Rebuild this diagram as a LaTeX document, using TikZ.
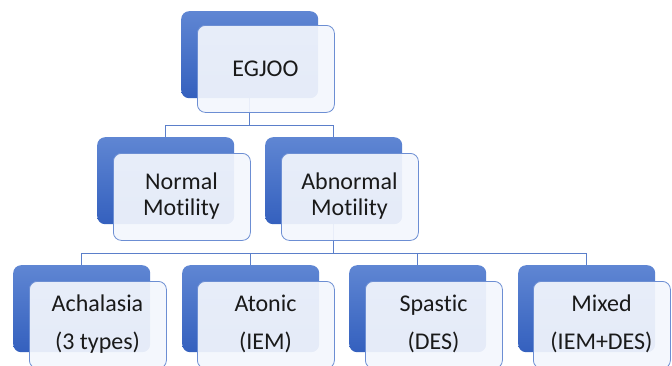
\documentclass[tikz,border=0pt]{standalone}
\usepackage{fontspec}
\setmainfont{Carlito}[Ligatures={NoCommon,NoContextual},RawFeature={-liga;-clig;-calt}]
\usetikzlibrary{backgrounds}
\definecolor{bluetop}{HTML}{5F86D3}
\definecolor{bluebot}{HTML}{3460BE}
\definecolor{edgeblue}{HTML}{6C8ED3}
\definecolor{frontfill}{HTML}{F4F7FD}
\definecolor{lineblue}{HTML}{5B7FCA}
\definecolor{txtcol}{HTML}{1A1A1A}
\newcommand{\motil}{Mot\kern0pt ility}
\tikzset{
  backbox/.style={rectangle, rounded corners=8pt, minimum width=137pt, minimum height=87pt,
    inner sep=0pt, top color=bluetop, bottom color=bluebot, draw=none, anchor=north west},
  frontbox/.style={rectangle, rounded corners=8pt, minimum width=137pt, minimum height=87pt,
    inner sep=0pt, fill=frontfill, fill opacity=0.92, draw=edgeblue, line width=0.8pt, anchor=north west},
  txt/.style={font=\fontsize{24}{28}\selectfont, inner sep=0pt, anchor=base, text=txtcol},
  conn/.style={draw=lineblue, line width=0.9pt},
}
\begin{document}
\begin{tikzpicture}[x=1pt,y=-1pt]
\clip (0,0) rectangle (672,365);
% level 1
\node[backbox] (b0) at (181,11) {};
\node[frontbox] (f0) at (197,25) {};
\node[txt] (t0) at (265.5,76) {EGJOO};
% level 2
\node[backbox] (b1) at (97,137) {};
\node[frontbox] (f1) at (113,153) {};
\node[txt] (t1a) at (181.5,189.3) {Normal};
\node[txt] (t1b) at (181.5,215.7) {\motil};
\node[backbox] (b2) at (265,137) {};
\node[frontbox] (f2) at (281,153) {};
\node[txt] (t2a) at (349.5,189.3) {Abnormal};
\node[txt] (t2b) at (349.5,215.7) {\motil};
% level 3
\node[backbox] (c1) at (13,265) {};
\node[frontbox] (g1) at (29,281) {};
\node[txt] (u1a) at (97.5,311.7) {Achalasia};
\node[txt] (u1b) at (97.5,349) {(3 types)};
\node[backbox] (c2) at (182,265) {};
\node[frontbox] (g2) at (197,281) {};
\node[txt] (u2a) at (265.5,311.7) {Atonic};
\node[txt] (u2b) at (265.5,349) {(IEM)};
\node[backbox] (c3) at (349,265) {};
\node[frontbox] (g3) at (365,281) {};
\node[txt] (u3a) at (433.5,311.7) {Spastic};
\node[txt] (u3b) at (433.5,349) {(DES)};
\node[backbox] (c4) at (518,265) {};
\node[frontbox] (g4) at (533,281) {};
\node[txt] (u4a) at (601.5,311.7) {Mixed};
\node[txt] (u4b) at (601.5,349) {(IEM+DES)};
% connectors
\coordinate (j1) at (250,125);
\coordinate (j2) at (334,253);
\begin{scope}[on background layer]
\fill[white] (0,0) rectangle (672,365);
\draw[conn] (b0.south) -- (b0.south |- j1) -| (b1.north);
\draw[conn] (b0.south |- j1) -| (b2.north);
\draw[conn] (b2.south) -- (b2.south |- j2) -| (c1.north);
\draw[conn] (b2.south |- j2) -| (c2.north);
\draw[conn] (b2.south |- j2) -| (c3.north);
\draw[conn] (b2.south |- j2) -| (c4.north);
\end{scope}
\end{tikzpicture}
\end{document}
